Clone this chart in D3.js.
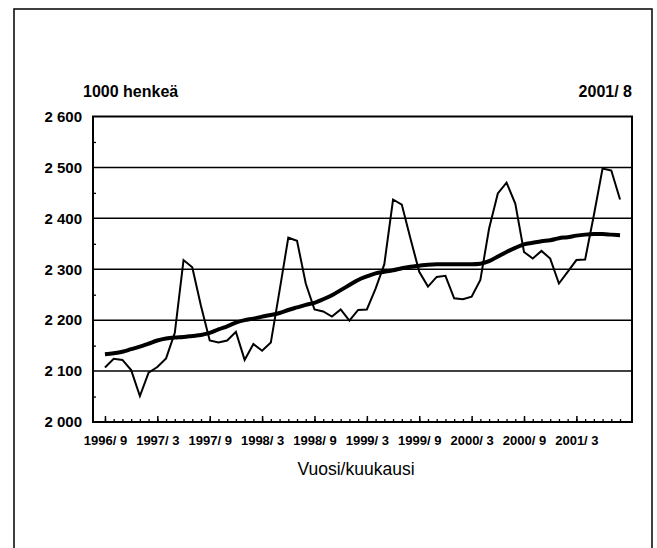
<!DOCTYPE html>
<html>
<head>
<meta charset="utf-8">
<script src="https://cdn.jsdelivr.net/npm/d3@7"></script>
<style>
  html, body { margin: 0; padding: 0; background: #fff; }
  svg { display: block; }
</style>
</head>
<body>
<div id="root"></div>
<script>
// months 1996/9 .. 2001/8
const months = [
  "1996/ 9", "1996/ 10", "1996/ 11", "1996/ 12",
  "1997/ 1", "1997/ 2", "1997/ 3", "1997/ 4", "1997/ 5", "1997/ 6", "1997/ 7", "1997/ 8", "1997/ 9", "1997/ 10", "1997/ 11", "1997/ 12",
  "1998/ 1", "1998/ 2", "1998/ 3", "1998/ 4", "1998/ 5", "1998/ 6", "1998/ 7", "1998/ 8", "1998/ 9", "1998/ 10", "1998/ 11", "1998/ 12",
  "1999/ 1", "1999/ 2", "1999/ 3", "1999/ 4", "1999/ 5", "1999/ 6", "1999/ 7", "1999/ 8", "1999/ 9", "1999/ 10", "1999/ 11", "1999/ 12",
  "2000/ 1", "2000/ 2", "2000/ 3", "2000/ 4", "2000/ 5", "2000/ 6", "2000/ 7", "2000/ 8", "2000/ 9", "2000/ 10", "2000/ 11", "2000/ 12",
  "2001/ 1", "2001/ 2", "2001/ 3", "2001/ 4", "2001/ 5", "2001/ 6", "2001/ 7", "2001/ 8",
];

const tickMonths = [
  "1996/ 9", "1997/ 3", "1997/ 9", "1998/ 3", "1998/ 9",
  "1999/ 3", "1999/ 9", "2000/ 3", "2000/ 9", "2001/ 3",
];

// employed, original series (1000 persons)
const original = [
  2107, 2124, 2122, 2102,
  2051, 2097, 2108, 2125, 2175, 2318, 2304, 2228, 2160, 2156, 2160, 2177,
  2122, 2153, 2140, 2156, 2258, 2362, 2356, 2272, 2221, 2217, 2207, 2221,
  2199, 2220, 2221, 2262, 2310, 2437, 2427, 2360, 2295, 2266, 2285, 2287,
  2243, 2241, 2246, 2279, 2380, 2449, 2470, 2429, 2334, 2321, 2336, 2321,
  2272, 2295, 2318, 2319, 2406, 2498, 2494, 2437,
];

// trend series
const trend = [
  2133, 2135, 2138, 2143,
  2148, 2154, 2160, 2164, 2166, 2167, 2169, 2171, 2175, 2182, 2188, 2195,
  2200, 2203, 2207, 2210, 2214, 2220, 2225, 2230, 2234, 2241, 2249, 2259,
  2269, 2279, 2286, 2292, 2295, 2298, 2302, 2305, 2307, 2309, 2310, 2310,
  2310, 2310, 2310, 2311, 2316, 2325, 2334, 2342, 2349, 2352, 2355, 2357,
  2361, 2363, 2366, 2368, 2369, 2369, 2368, 2367,
];

const yTicks = [2000, 2100, 2200, 2300, 2400, 2500, 2600];
const yMinorTicks = [2050, 2150, 2250, 2350, 2450, 2550];

const unitLabel = "1000 henkeä";
const periodLabel = "2001/ 8";
const xTitle = "Vuosi/kuukausi";

const width = 657;
const height = 548;
const plot = { left: 93, right: 632, top: 116.5, bottom: 422 };

const svg = d3
  .select("#root")
  .append("svg")
  .attr("width", width)
  .attr("height", height)
  .attr("viewBox", `0 0 ${width} ${height}`);

// outer frame (runs off the bottom of the picture)
svg
  .append("rect")
  .attr("x", 14)
  .attr("y", 9)
  .attr("width", 638)
  .attr("height", 560)
  .attr("fill", "none")
  .attr("stroke", "#000")
  .attr("stroke-width", 1.5);

const x = d3
  .scalePoint()
  .domain(months)
  .range([plot.left, plot.right])
  .padding(1.37);

const y = d3
  .scaleLinear()
  .domain([2000, 2600])
  .range([plot.bottom, plot.top]);

// gridlines
svg
  .append("g")
  .selectAll("line")
  .data(yTicks.slice(1, -1))
  .join("line")
  .attr("x1", plot.left)
  .attr("x2", plot.right)
  .attr("y1", (d) => y(d))
  .attr("y2", (d) => y(d))
  .attr("stroke", "#000")
  .attr("stroke-width", 1.5);

// left minor ticks, pointing inward
svg
  .append("g")
  .attr("transform", `translate(${plot.left},0)`)
  .call(d3.axisLeft(y).tickValues(yMinorTicks).tickSize(-3).tickFormat(""))
  .call((g) => g.select(".domain").remove())
  .call((g) => g.selectAll("line").attr("stroke-width", 1.3));

// y labels
svg
  .append("g")
  .attr("transform", `translate(${plot.left},0)`)
  .call(
    d3
      .axisLeft(y)
      .tickValues(yTicks)
      .tickSize(0)
      .tickPadding(11)
      .tickFormat((d) => d3.format(",")(d).replace(",", " "))
  )
  .call((g) => g.select(".domain").remove())
  .call((g) =>
    g
      .selectAll("text")
      .attr("font-family", "'Liberation Sans', Arial, sans-serif")
      .attr("font-weight", "bold")
      .attr("font-size", 15)
      .attr("fill", "#000")
  );

// bottom minor ticks (every month)
svg
  .append("g")
  .attr("transform", `translate(0,${plot.bottom})`)
  .call(d3.axisBottom(x).tickSize(-3).tickFormat(""))
  .call((g) => g.select(".domain").remove())
  .call((g) => g.selectAll("line").attr("stroke-width", 1.3));

// bottom major ticks + labels
svg
  .append("g")
  .attr("transform", `translate(0,${plot.bottom})`)
  .call(d3.axisBottom(x).tickValues(tickMonths).tickSize(-6))
  .call((g) => g.select(".domain").remove())
  .call((g) => g.selectAll("line").attr("stroke-width", 1.5))
  .call((g) =>
    g
      .selectAll("text")
      .attr("y", 23)
      .attr("dy", 0)
      .attr("font-family", "'Liberation Sans Narrow', 'Arial Narrow', sans-serif")
      .attr("font-weight", "bold")
      .attr("font-size", 13)
      .attr("fill", "#000")
  );

// plot box
svg
  .append("rect")
  .attr("x", plot.left)
  .attr("y", plot.top)
  .attr("width", plot.right - plot.left)
  .attr("height", plot.bottom - plot.top)
  .attr("fill", "none")
  .attr("stroke", "#000")
  .attr("stroke-width", 2);

const line = d3
  .line()
  .x((d, i) => x(months[i]))
  .y((d) => y(d));

// original series
svg
  .append("path")
  .datum(original)
  .attr("fill", "none")
  .attr("stroke", "#000")
  .attr("stroke-width", 2)
  .attr("stroke-linejoin", "miter")
  .attr("d", line);

// trend
svg
  .append("path")
  .datum(trend)
  .attr("fill", "none")
  .attr("stroke", "#000")
  .attr("stroke-width", 4)
  .attr("stroke-linejoin", "round")
  .attr("d", line.curve(d3.curveMonotoneX));

// header texts
svg
  .append("text")
  .attr("x", 83)
  .attr("y", 97)
  .attr("font-family", "'Liberation Sans', Arial, sans-serif")
  .attr("font-weight", "bold")
  .attr("font-size", 16)
  .text(unitLabel);

svg
  .append("text")
  .attr("x", plot.right)
  .attr("y", 97)
  .attr("text-anchor", "end")
  .attr("font-family", "'Liberation Sans', Arial, sans-serif")
  .attr("font-weight", "bold")
  .attr("font-size", 16)
  .text(periodLabel);

// x title
svg
  .append("text")
  .attr("x", 356)
  .attr("y", 475)
  .attr("text-anchor", "middle")
  .attr("font-family", "'Liberation Sans', Arial, sans-serif")
  .attr("font-size", 17.5)
  .text(xTitle);
</script>
</body>
</html>
